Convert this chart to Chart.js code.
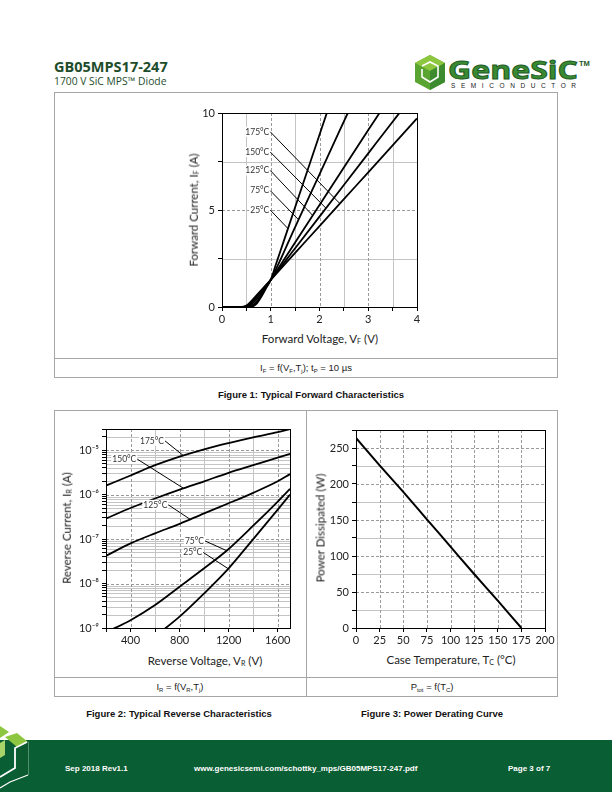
<!DOCTYPE html>
<html>
<head>
<meta charset="utf-8">
<script src="https://cdn.jsdelivr.net/npm/chart.js@4.4.1/dist/chart.umd.min.js"></script>
<style>
  body { margin: 0; width: 612px; height: 792px; position: relative; background: #fff; overflow: hidden; font-family: "Liberation Sans", Arial, sans-serif; }
  .abs { position: absolute; white-space: nowrap; }
  .line { position: absolute; background: #a6a6a6; }
  .cap { position: absolute; font-size: 9.5px; color: #222; text-align: center; white-space: nowrap; }
  .fig { position: absolute; font-size: 9.5px; font-weight: bold; color: #111; text-align: center; white-space: nowrap; }
  .ttl { position: absolute; font-family: Lato, sans-serif; font-size: 11.5px; color: #222; white-space: nowrap; }
  .ttl sub, .cap sub { font-size: 0.62em; vertical-align: -0.2em; }
  .rot { transform: translate(-50%, -50%) rotate(-90deg); }
  .hz { transform: translate(-50%, -50%); }
  canvas { position: absolute; }
  .foot { position: absolute; top: 764px; font-size: 8px; font-weight: bold; color: #fff; }
</style>
</head>
<body>
<div class="abs" style="left:54px;top:57px;font-family:'Open Sans';font-weight:bold;font-size:14.5px;color:#1e4d2b">GB05MPS17-247</div>
<div class="abs" style="left:54px;top:74px;font-family:'Open Sans';font-size:10.3px;color:#1e4d2b">1700 V SiC MPS™ Diode</div>

<svg class="abs" style="left:413px;top:53px" width="185" height="40" viewBox="0 0 185 40">
  <polygon points="17,2 32,10 32,29 17,37 2,29 2,10" fill="#5aa532"/>
  <polygon points="17,2 32,10 17,18 2,10" fill="#8dc63f"/>
  <polygon points="17,18 32,10 32,29 17,37" fill="#3d8b2f"/>
  <polyline points="9,13 17,9 25,13 25,24 17,29 9,24 9,16" fill="none" stroke="#fff" stroke-width="1.6"/>
  <text x="35" y="26" textLength="130" lengthAdjust="spacingAndGlyphs" font-family="Open Sans" font-weight="bold" font-size="25" fill="#3a8a32" stroke="#1d5a26" stroke-width="0.9">GeneSiC</text>
  <text x="166" y="13" font-family="Liberation Sans" font-weight="bold" font-size="7.5" fill="#1d5a26">TM</text>
  <text x="38" y="35" textLength="125" lengthAdjust="spacing" font-family="Liberation Sans" font-size="6.5" fill="#222">SEMICONDUCTOR</text>
</svg>

<!-- figure 1 frame -->
<div class="line" style="left:54px;top:92px;width:504px;height:1px"></div>
<div class="line" style="left:54px;top:377px;width:504px;height:1px"></div>
<div class="line" style="left:54px;top:92px;width:1px;height:286px"></div>
<div class="line" style="left:557px;top:92px;width:1px;height:286px"></div>
<div class="line" style="left:54px;top:358px;width:504px;height:1px"></div>
<div class="cap hz" style="left:306px;top:368px">I<sub>F</sub> = f(V<sub>F</sub>,T<sub>j</sub>); t<sub>P</sub> = 10 µs</div>
<div class="fig hz" style="left:311px;top:394px">Figure 1: Typical Forward Characteristics</div>

<!-- figure 2/3 frame -->
<div class="line" style="left:54px;top:410px;width:504px;height:1px"></div>
<div class="line" style="left:54px;top:696px;width:504px;height:1px"></div>
<div class="line" style="left:54px;top:410px;width:1px;height:287px"></div>
<div class="line" style="left:557px;top:410px;width:1px;height:287px"></div>
<div class="line" style="left:306px;top:410px;width:1px;height:287px"></div>
<div class="line" style="left:54px;top:677px;width:504px;height:1px"></div>
<div class="cap hz" style="left:180px;top:687px">I<sub>R</sub> = f(V<sub>R</sub>,T<sub>j</sub>)</div>
<div class="cap hz" style="left:432px;top:687px">P<sub>tot</sub> = f(T<sub>C</sub>)</div>
<div class="fig hz" style="left:179px;top:713px">Figure 2: Typical Reverse Characteristics</div>
<div class="fig hz" style="left:432px;top:713px">Figure 3: Power Derating Curve</div>

<canvas id="fwd" width="235" height="226" style="left:192px;top:103px"></canvas>
<canvas id="rev" width="228" height="231" style="left:70px;top:419px"></canvas>
<canvas id="pwr" width="231" height="230" style="left:326px;top:420px"></canvas>

<div class="ttl hz" style="left:320px;top:339px">Forward Voltage, V<sub>F</sub> (V)</div>
<div class="ttl rot" style="left:194px;top:210px">Forward Current, I<sub>F</sub> (A)</div>
<div class="ttl hz" style="left:205px;top:661px">Reverse Voltage, V<sub>R</sub> (V)</div>
<div class="ttl rot" style="left:67px;top:528px">Reverse Current, I<sub>R</sub> (A)</div>
<div class="ttl hz" style="left:451px;top:660px">Case Temperature, T<sub>C</sub> (°C)</div>
<div class="ttl rot" style="left:320px;top:528px">Power Dissipated (W)</div>

<!-- footer -->
<div class="abs" style="left:0;top:740px;width:612px;height:52px;background:#0a5e34"></div>
<svg class="abs" style="left:0;top:715px" width="40" height="77" viewBox="0 715 40 77">
  <polygon points="0,726 9,732 0,738" fill="#8dc63f"/>
  <polygon points="5,737 17,733 28,742 17,747" fill="#8dc63f"/>
  <polygon points="0,743 5,740 5,755 0,758" fill="#a6d468"/>
  <polygon points="17,747 28,742 28,775 17,781" fill="#0b5a30"/>
  <polyline points="0,777 15,768 15,748 27,742" fill="none" stroke="#fff" stroke-width="1.8"/>
  <polyline points="0,788 10,782 28,775" fill="none" stroke="#fff" stroke-width="1.2"/>
  <line x1="28.5" y1="742" x2="28.5" y2="775" stroke="#7fb08f" stroke-width="0.6"/>
</svg>
<div class="foot" style="left:65px">Sep 2018 Rev1.1</div>
<div class="foot" style="left:194px">www.genesicsemi.com/schottky_mps/GB05MPS17-247.pdf</div>
<div class="foot" style="left:508px">Page 3 of 7</div>

<script>
// Figure 1: forward characteristics, I_F (A) against V_F (V)
const vf25 = [0, 0.55, 0.65, 0.72, 0.8, 0.9, 1.0, 1.1, 1.5, 2.0, 2.15];
const if25 = [0, 0, 0.05, 0.2, 0.5, 0.95, 1.4, 2.15, 5.14, 8.88, 10];
const vf75 = [0, 0.5, 0.6, 0.7, 0.8, 0.9, 1.0, 1.5, 2.0, 2.58];
const if75 = [0, 0, 0.06, 0.25, 0.6, 1.0, 1.4, 4.12, 6.84, 10];
const vf125 = [0, 0.45, 0.55, 0.65, 0.8, 0.9, 1.0, 1.5, 2.0, 2.5, 3.0, 3.23];
const if125 = [0, 0, 0.06, 0.25, 0.7, 1.05, 1.4, 3.33, 5.26, 7.19, 9.12, 10];
const vf150 = [0, 0.42, 0.52, 0.62, 0.75, 0.9, 1.0, 1.5, 2.0, 2.5, 3.0, 3.5, 3.64];
const if150 = [0, 0, 0.06, 0.27, 0.65, 1.1, 1.4, 3.03, 4.66, 6.29, 7.92, 9.55, 10];
const vf175 = [0, 0.4, 0.5, 0.6, 0.75, 0.9, 1.0, 1.5, 2.0, 2.5, 3.0, 3.5, 4.0];
const if175 = [0, 0, 0.07, 0.3, 0.72, 1.13, 1.4, 2.79, 4.17, 5.56, 6.94, 8.33, 9.72];
const fwdXTicks = [0, 1, 2, 3, 4];
const fwdYTicks = [0, 5, 10];
// leader labels: text, start [V, A], end [V, A]
const fwdLabels = ['175°C', '150°C', '125°C', '75°C', '25°C'];
const fwdLabelFrom = [[0.99, 9.03], [0.99, 7.99], [0.99, 7.04], [0.99, 6.0], [0.99, 5.0]];
const fwdLabelTo = [[2.41, 5.35], [2.13, 5.1], [1.86, 4.72], [1.57, 4.5], [1.35, 4.05]];

// Figure 2: reverse characteristics, I_R (A) against V_R (V)
const vrHot = [200, 400, 600, 800, 1000, 1200, 1400, 1600, 1700];
const ir175 = [1.6e-6, 2.7e-6, 4.6e-6, 7.2e-6, 1.05e-5, 1.45e-5, 1.95e-5, 2.55e-5, 3.0e-5];
const ir150 = [2.9e-7, 5.0e-7, 8.2e-7, 1.3e-6, 2.0e-6, 3.1e-6, 4.6e-6, 6.8e-6, 8.3e-6];
const ir125 = [4.2e-8, 8.0e-8, 1.35e-7, 2.2e-7, 3.8e-7, 6.4e-7, 1.1e-6, 2.0e-6, 2.9e-6];
const vr75 = [200, 400, 600, 800, 1000, 1200, 1400, 1600, 1700];
const ir75 = [8e-10, 1.5e-9, 3.3e-9, 8.5e-9, 2.2e-8, 6.0e-8, 2.0e-7, 7.0e-7, 1.35e-6];
const vr25 = [600, 800, 1000, 1200, 1400, 1600, 1700];
const ir25 = [6.5e-10, 1.8e-9, 6.0e-9, 2.2e-8, 1.0e-7, 4.6e-7, 1.0e-6];
const revXTicks = [400, 800, 1200, 1600];
const revDecades = [1e-9, 1e-8, 1e-7, 1e-6, 1e-5];
const revLabels = ['175°C', '150°C', '125°C', '75°C', '25°C'];
const revLabelFrom = [[681, 1.62e-5], [455, 6.3e-6], [708, 5.9e-7], [1007, 9.1e-8], [993, 5.0e-8]];
const revLabelTo = [[830, 7.6e-6], [830, 1.4e-6], [885, 2.8e-7], [1184, 5.5e-8], [1197, 2.15e-8]];

// Figure 3: power derating, P_tot (W) against T_C (°C)
const tCase = [0, 25, 50, 75, 100, 125, 150, 175];
const pTot = [264, 226, 189, 151, 113, 75, 38, 0];
const pwrXTicks = [0, 25, 50, 75, 100, 125, 150, 175, 200];
const pwrYTicks = [0, 50, 100, 150, 200, 250];

const tickFont = { family: 'Lato', size: 11 };
const SUP = { '-': '⁻', '0': '⁰', '1': '¹', '2': '²', '3': '³', '4': '⁴', '5': '⁵', '6': '⁶', '7': '⁷', '8': '⁸', '9': '⁹' };

const pts = (xs, ys) => xs.map((x, i) => ({ x, y: ys[i] }));
const curve = (xs, ys, w) => ({ data: pts(xs, ys), borderColor: '#000', borderWidth: w, pointRadius: 0, cubicInterpolationMode: 'monotone', fill: false });
const range = (a, b, s) => { const out = []; for (let v = a; v <= b + 1e-9; v += s) out.push(+v.toFixed(6)); return out; };

// grid, frame and leader labels drawn through the chart's scales
const sheet = {
  id: 'sheet',
  beforeDatasetsDraw(chart, args, o) {
    const { ctx, chartArea: a, scales: { x, y } } = chart;
    ctx.save();
    ctx.lineWidth = 1;
    const vline = (v, dash) => {
      const p = Math.round(x.getPixelForValue(v)) + 0.5;
      ctx.strokeStyle = dash ? '#9a9a9a' : '#c4c4c4';
      ctx.setLineDash(dash ? [3, 2] : []);
      ctx.beginPath(); ctx.moveTo(p, a.top); ctx.lineTo(p, a.bottom); ctx.stroke();
    };
    const hline = (v, dash) => {
      const p = Math.round(y.getPixelForValue(v)) + 0.5;
      ctx.strokeStyle = dash ? '#9a9a9a' : '#c4c4c4';
      ctx.setLineDash(dash ? [3, 2] : []);
      ctx.beginPath(); ctx.moveTo(a.left, p); ctx.lineTo(a.right, p); ctx.stroke();
    };
    (o.xSolid || []).forEach(v => vline(v, false));
    (o.ySolid || []).forEach(v => hline(v, false));
    (o.xDash || []).forEach(v => vline(v, true));
    (o.yDash || []).forEach(v => hline(v, true));
    ctx.restore();
  },
  afterDatasetsDraw(chart, args, o) {
    const { ctx, chartArea: a, scales: { x, y } } = chart;
    ctx.save();
    ctx.font = '8.5px Lato';
    ctx.textAlign = 'right';
    ctx.textBaseline = 'middle';
    (o.labels || []).forEach((t, i) => {
      const [x1, y1] = o.from[i], [x2, y2] = o.to[i];
      const px1 = x.getPixelForValue(x1), py1 = y.getPixelForValue(y1);
      const px2 = x.getPixelForValue(x2), py2 = y.getPixelForValue(y2);
      const w = ctx.measureText(t).width;
      ctx.fillStyle = '#fff';
      ctx.fillRect(px1 - w - 2, py1 - 5, w + 2, 10);
      ctx.fillStyle = '#333';
      ctx.fillText(t, px1 - 1, py1);
      ctx.strokeStyle = '#000';
      ctx.lineWidth = 1;
      ctx.beginPath(); ctx.moveTo(px1, py1); ctx.lineTo(px2, py2); ctx.stroke();
    });
    ctx.strokeStyle = '#000';
    ctx.lineWidth = 1;
    ctx.strokeRect(Math.round(a.left) + 0.5, Math.round(a.top) + 0.5, Math.round(a.right - a.left), Math.round(a.bottom - a.top));
    ctx.restore();
  }
};

function axis(extra, isY, size) {
  return Object.assign({
    grid: { drawOnChartArea: false, drawTicks: true, tickLength: 4, color: '#000' },
    border: { display: true, color: '#000' },
    ticks: { font: tickFont, color: '#222', padding: 2, maxRotation: 0, autoSkip: false },
    afterFit(s) { if (isY) s.width = size; else s.height = size; }
  }, extra);
}

function baseOptions(scales, sheetOpts, padding) {
  return {
    responsive: false,
    animation: false,
    layout: { padding },
    plugins: { legend: { display: false }, tooltip: { enabled: false }, sheet: sheetOpts },
    scales
  };
}

Chart.register(sheet);

new Chart(document.getElementById('fwd'), {
  type: 'line',
  data: {
    datasets: [curve(vf25, if25, 1.8), curve(vf75, if75, 1.8), curve(vf125, if125, 1.8), curve(vf150, if150, 1.8), curve(vf175, if175, 1.8)]
  },
  options: baseOptions({
    x: axis({ type: 'linear', min: 0, max: 4,
      afterBuildTicks(s) { s.ticks = range(0, 4, 0.5).map(value => ({ value })); },
      ticks: { font: tickFont, color: '#222', padding: 2, maxRotation: 0, autoSkip: false, callback: v => fwdXTicks.includes(v) ? String(v) : '' } }, false, 22),
    y: axis({ min: 0, max: 10,
      afterBuildTicks(s) { s.ticks = range(0, 10, 2.5).map(value => ({ value })); },
      ticks: { font: tickFont, color: '#222', padding: 3, autoSkip: false, callback: v => fwdYTicks.includes(v) ? String(v) : '' } }, true, 30)
  }, {
    xSolid: [0.5, 1.5, 2.5, 3.5], xDash: [1, 2, 3], ySolid: [2.5, 7.5], yDash: [5],
    labels: fwdLabels, from: fwdLabelFrom, to: fwdLabelTo
  }, { top: 10, right: 10, left: 0, bottom: 0 })
});

const decadeLabel = v => {
  const e = Math.round(Math.log10(v));
  if (!revDecades.some(d => Math.abs(d / v - 1) < 1e-6)) return '';
  return '10' + String(e).split('').map(c => SUP[c]).join('');
};
const revMinor = [];
revDecades.forEach(d => { for (let k = 2; k <= 9; k++) if (k * d <= 3e-5 * 1.0001) revMinor.push(k * d); });

new Chart(document.getElementById('rev'), {
  type: 'line',
  data: {
    datasets: [curve(vrHot, ir175, 1.8), curve(vrHot, ir150, 1.8), curve(vrHot, ir125, 1.8), curve(vr75, ir75, 1.8), curve(vr25, ir25, 1.8)]
  },
  options: baseOptions({
    x: axis({ type: 'linear', min: 200, max: 1700,
      afterBuildTicks(s) { s.ticks = range(200, 1600, 200).map(value => ({ value })); },
      ticks: { font: tickFont, color: '#222', padding: 2, maxRotation: 0, autoSkip: false, callback: v => revXTicks.includes(v) ? String(v) : '' } }, false, 22),
    y: axis({ type: 'logarithmic', min: 1e-9, max: 3e-5,
      afterBuildTicks(s) { s.ticks = revDecades.concat(revMinor).sort((a, b) => a - b).map(value => ({ value })); },
      ticks: { font: tickFont, color: '#222', padding: 3, autoSkip: false, callback: decadeLabel } }, true, 36)
  }, {
    xSolid: [600, 1000, 1400], xDash: revXTicks, ySolid: revMinor, yDash: revDecades,
    labels: revLabels, from: revLabelFrom, to: revLabelTo
  }, { top: 10, right: 8, left: 0, bottom: 0 })
});

new Chart(document.getElementById('pwr'), {
  type: 'line',
  data: { datasets: [curve(tCase, pTot, 2)] },
  options: baseOptions({
    x: axis({ type: 'linear', min: 0, max: 200,
      afterBuildTicks(s) { s.ticks = pwrXTicks.map(value => ({ value })); },
      ticks: { font: tickFont, color: '#222', padding: 2, maxRotation: 0, autoSkip: false } }, false, 22),
    y: axis({ min: 0, max: 275,
      afterBuildTicks(s) { s.ticks = range(0, 275, 25).map(value => ({ value })); },
      ticks: { font: tickFont, color: '#222', padding: 3, autoSkip: false, callback: v => pwrYTicks.includes(v) ? String(v) : '' } }, true, 30)
  }, {
    xDash: [25, 50, 75, 100, 125, 150, 175], ySolid: [25, 75, 125, 175, 225], yDash: [50, 100, 150, 200, 250]
  }, { top: 10, right: 12, left: 0, bottom: 0 })
});
</script>
</body>
</html>
